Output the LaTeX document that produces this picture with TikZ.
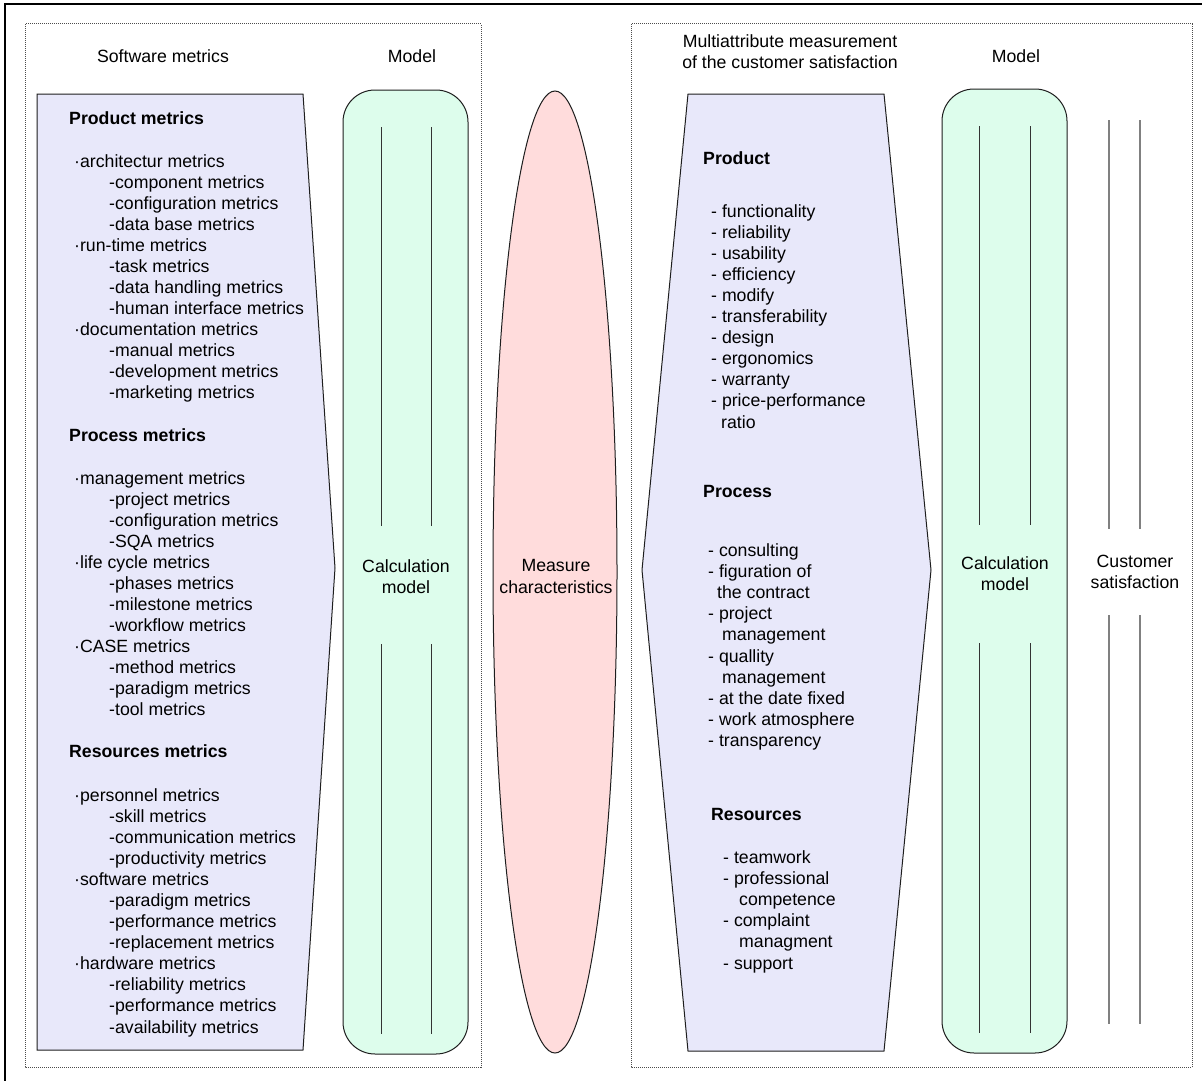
\documentclass[tikz,border=0pt]{standalone}
\usepackage{fontspec}
\setmainfont{Liberation Sans}
\definecolor{lav}{RGB}{232,232,250}
\definecolor{mint}{RGB}{221,253,236}
\definecolor{rosy}{RGB}{255,220,220}
\definecolor{edge}{RGB}{30,30,30}
\begin{document}
\begin{tikzpicture}[x=1pt,y=-1pt,
  txt/.style={inner sep=0pt, anchor=base west, font=\fontsize{17.7}{21.1}\selectfont},
  hd/.style={inner sep=0pt, anchor=base west, font=\fontsize{17.7}{21.1}\selectfont\bfseries},
  ttl/.style={inner sep=0pt, anchor=base, font=\fontsize{17.7}{21.1}\selectfont},
  ctr/.style={inner sep=0pt, align=center, font=\fontsize{17.7}{21.1}\selectfont},
  dotbox/.style={draw=black!70, line width=1pt, dash pattern=on 1pt off 1pt},
  outl/.style={draw=edge, line width=1pt},
  inner/.style={draw=black!80, line width=1pt},
  gline/.style={draw=black!50, line width=2pt}]
\useasboundingbox (0,0) rectangle (1202,1081);
\fill[white] (0,0) rectangle (1202,1081);
% outer frame
\draw[line width=2pt] (5,1081) -- (5,4) -- (1202,4);
% dotted groups
\draw[dotbox] (25,24) rectangle (481,1067);
\draw[dotbox] (631,24) rectangle (1192,1067);
% left purple shape
\path[outl, fill=lav] (37,94) -- (303,94) -- (335,568) -- (303,1050) -- (37,1050) -- cycle;
% left green model
\path[outl, fill=mint, rounded corners=32pt] (343,90) rectangle (468,1054);
\draw[inner] (381,127) -- (381,526) (431,127) -- (431,526);
\draw[inner] (381,644) -- (381,1034) (431,644) -- (431,1034);
% ellipse
\path[outl, fill=rosy] (555,572) ellipse [x radius=62, y radius=481];
% right purple shape
\path[outl, fill=lav] (688,94) -- (884,94) -- (931,570) -- (884,1051) -- (688,1051) -- (642,570) -- cycle;
% right green model
\path[outl, fill=mint, rounded corners=32pt] (942,89) rectangle (1067,1053);
\draw[inner] (979,126) -- (979,525) (1030,126) -- (1030,525);
\draw[inner] (979,643) -- (979,1033) (1030,643) -- (1030,1033);
% customer satisfaction lines
\draw[gline] (1109,120) -- (1109,529) (1140,120) -- (1140,529);
\draw[gline] (1109,615) -- (1109,1024) (1140,615) -- (1140,1024);
% titles
\node[ttl] (t1) at (163,63) {Software metrics};
\node[ttl] (t2) at (412,63) {Model};
\node[ctr] (t3) at (790,52) {Multiattribute measurement\\of the customer satisfaction};
\node[ttl] (t4) at (1016,63) {Model};
\node[ctr] (cm1) at (406,577) {Calculation\\model};
\node[ctr] (mc) at (556,576.5) {Measure\\characteristics};
\node[ctr] (cm2) at (1005,573.5) {Calculation\\model};
\node[ctr] (cs) at (1135,572) {Customer\\satisfaction};
% left lists
\node[hd] (h1) at (69,124) {Product metrics};
\foreach \d/\t [count=\i from 0] in {0/{·architectur metrics},1/{-component metrics},1/{-configuration metrics},1/{-data base metrics},0/{·run-time metrics},1/{-task metrics},1/{-data handling metrics},1/{-human interface metrics},0/{·documentation metrics},1/{-manual metrics},1/{-development metrics},1/{-marketing metrics}}
  \node[txt] (la\i) at ({74+35*\d},{167+21.09*\i}) {\t};
\node[hd] (h2) at (69,441) {Process metrics};
\foreach \d/\t [count=\i from 0] in {0/{·management metrics},1/{-project metrics},1/{-configuration metrics},1/{-SQA metrics},0/{·life cycle metrics},1/{-phases metrics},1/{-milestone metrics},1/{-workflow metrics},0/{·CASE metrics},1/{-method metrics},1/{-paradigm metrics},1/{-tool metrics}}
  \node[txt] (lb\i) at ({74+35*\d},{484+21.09*\i}) {\t};
\node[hd] (h3) at (69,757) {Resources metrics};
\foreach \d/\t [count=\i from 0] in {0/{·personnel metrics},1/{-skill metrics},1/{-communication metrics},1/{-productivity metrics},0/{·software metrics},1/{-paradigm metrics},1/{-performance metrics},1/{-replacement metrics},0/{·hardware metrics},1/{-reliability metrics},1/{-performance metrics},1/{-availability metrics}}
  \node[txt] (lc\i) at ({74+35*\d},{801+21.09*\i}) {\t};
% right lists
\node[hd] (h4) at (703,164) {Product};
\foreach \x/\t [count=\i from 0] in {711/{- functionality},711/{- reliability},711/{- usability},711/{- efficiency},711/{- modify},711/{- transferability},711/{- design},711/{- ergonomics},711/{- warranty},711/{- price-performance},721/{ratio}}
  \node[txt] (ra\i) at (\x,{217+21.1*\i}) {\t};
\node[hd] (h5) at (703,497) {Process};
\foreach \x/\t [count=\i from 0] in {708/{- consulting},708/{- figuration of},717/{the contract},708/{- project},722/{management},708/{- quallity},722/{management},708/{- at the date fixed},708/{- work atmosphere},708/{- transparency}}
  \node[txt] (rb\i) at (\x,{556+21.2*\i}) {\t};
\node[hd] (h6) at (711,820) {Resources};
\foreach \x/\t [count=\i from 0] in {723/{- teamwork},723/{- professional},739/{competence},723/{- complaint},739/{managment},723/{- support}}
  \node[txt] (rc\i) at (\x,{863+21.2*\i}) {\t};
\end{tikzpicture}
\end{document}
